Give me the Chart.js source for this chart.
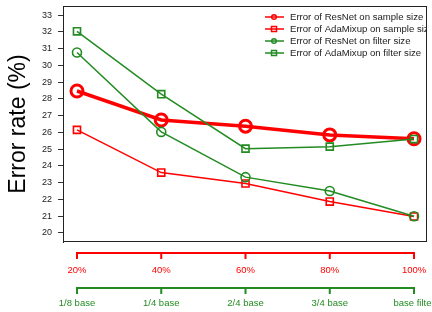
<!DOCTYPE html>
<html>
<head>
<meta charset="utf-8">
<script src="https://cdn.jsdelivr.net/npm/chart.js@4/dist/chart.umd.min.js"></script>
<style>
  html, body { margin: 0; padding: 0; background: #fff; }
  #wrap { width: 432px; height: 312px; }
</style>
</head>
<body>
<div id="wrap"><canvas id="chart" width="432" height="312"></canvas></div>
<script>
// tick labels of the two bottom axes
const sampleLabels = ['20%', '40%', '60%', '80%', '100%'];
const filterLabels = ['1/8 base', '1/4 base', '2/4 base', '3/4 base', 'base filter'];
const yTicks = [20, 21, 22, 23, 24, 25, 26, 27, 28, 29, 30, 31, 32, 33];

// error rates (%)
const resnetSample = [28.47, 26.74, 26.37, 25.85, 25.62];
const adamixupSample = [26.15, 23.6, 22.95, 21.87, 20.98];
const resnetFilter = [30.77, 26.03, 23.33, 22.5, 21.0];
const adamixupFilter = [32.03, 28.28, 25.03, 25.15, 25.6];

const RED = '#ff0000';
const GREEN = '#228b22';
const FONT = '"Liberation Sans", Arial, Helvetica, sans-serif';

function toPoints(values) {
    return values.map((v, i) => ({ x: i, y: v }));
}

// Boîte du graphique + légende maison (coupée au bord du cadre)
const boxAndLegend = {
    id: 'boxAndLegend',
    afterDatasetsDraw(chart) {
        const { ctx, chartArea: a } = chart;
        ctx.save();
        ctx.beginPath();
        ctx.rect(a.left, a.top, a.right - a.left, a.bottom - a.top);
        ctx.clip();
        ctx.font = '9.6px ' + FONT;
        ctx.textBaseline = 'middle';
        ctx.fillStyle = '#222';
        const items = chart.data.datasets.slice().sort((p, q) => p.legendIndex - q.legendIndex);
        items.forEach((ds, i) => {
            const y = a.top + 11 + i * 12;
            ctx.strokeStyle = ds.borderColor;
            ctx.lineWidth = 1.5;
            ctx.beginPath();
            ctx.moveTo(265, y);
            ctx.lineTo(284, y);
            ctx.stroke();
            ctx.beginPath();
            if (ds.pointStyle === 'circle') {
                ctx.arc(274, y, 2.3, 0, Math.PI * 2);
            } else {
                ctx.rect(271.5, y - 2.5, 5, 5);
            }
            ctx.stroke();
            ctx.fillText(ds.label, 290, y + 0.5);
        });
        ctx.restore();

        ctx.save();
        ctx.strokeStyle = '#222';
        ctx.lineWidth = 1;
        ctx.strokeRect(a.left + 0.5, a.top + 0.5, a.right - a.left - 1, a.bottom - a.top - 1);
        ctx.restore();
    }
};

// Les crochets colorés sous le graphique (ligne + graduations)
const brackets = {
    id: 'brackets',
    afterDraw(chart) {
        const { ctx } = chart;
        [['x', RED, 11], ['x2', GREEN, 12]].forEach(([id, color, gap]) => {
            const s = chart.scales[id];
            const y = s.top + gap;
            ctx.save();
            ctx.strokeStyle = color;
            ctx.lineWidth = 2;
            ctx.beginPath();
            ctx.moveTo(s.getPixelForValue(0) - 1, y);
            ctx.lineTo(s.getPixelForValue(4) + 1, y);
            for (let i = 0; i < 5; i++) {
                const px = s.getPixelForValue(i);
                ctx.moveTo(px, y);
                ctx.lineTo(px, y + 6);
            }
            ctx.stroke();
            ctx.restore();
        });
    }
};

function fixedTicks(values) {
    return (scale) => { scale.ticks = values.map(v => ({ value: v })); };
}

const xIdx = [0, 1, 2, 3, 4];

new Chart(document.getElementById('chart'), {
    type: 'line',
    data: {
        datasets: [
            {
                label: 'Error of ResNet on filter size',
                data: toPoints(resnetFilter),
                borderColor: GREEN, backgroundColor: 'rgba(0,0,0,0)',
                borderWidth: 1.5, pointStyle: 'circle', pointRadius: 4.5,
                pointBorderWidth: 1.6, order: 1, legendIndex: 2
            },
            {
                label: 'Error of AdaMixup on filter size',
                data: toPoints(adamixupFilter),
                borderColor: GREEN, backgroundColor: 'rgba(0,0,0,0)',
                borderWidth: 1.5, pointStyle: 'rect', pointRadius: 5,
                pointBorderWidth: 1.6, order: 1, legendIndex: 3
            },
            {
                label: 'Error of ResNet on sample size',
                data: toPoints(resnetSample),
                borderColor: RED, backgroundColor: 'rgba(0,0,0,0)',
                borderWidth: 3.5, pointStyle: 'circle', pointRadius: 6,
                pointBorderWidth: 3, order: 2, legendIndex: 0
            },
            {
                label: 'Error of AdaMixup on sample size',
                data: toPoints(adamixupSample),
                borderColor: RED, backgroundColor: 'rgba(0,0,0,0)',
                borderWidth: 1.5, pointStyle: 'rect', pointRadius: 5,
                pointBorderWidth: 1.6, order: 2, legendIndex: 1
            }
        ]
    },
    options: {
        responsive: false,
        animation: false,
        layout: { autoPadding: false, padding: { left: 0, top: 6, right: 5, bottom: 0 } },
        plugins: { legend: { display: false }, tooltip: { enabled: false } },
        elements: { line: { tension: 0 } },
        scales: {
            x: {
                type: 'linear', position: 'bottom', min: -0.166, max: 4.154,
                afterBuildTicks: fixedTicks(xIdx),
                afterFit: (s) => { s.paddingLeft = 0; s.paddingRight = 0; s.height = 34; },
                grid: { display: false, drawTicks: false },
                border: { display: false },
                ticks: {
                    padding: 23, color: RED, maxRotation: 0, autoSkip: false,
                    font: { family: FONT, size: 9.5 },
                    callback: (v) => sampleLabels[v]
                }
            },
            x2: {
                type: 'linear', position: 'bottom', min: -0.166, max: 4.154,
                afterBuildTicks: fixedTicks(xIdx),
                afterFit: (s) => { s.paddingLeft = 0; s.paddingRight = 0; s.height = 36; },
                grid: { display: false, drawTicks: false },
                border: { display: false },
                ticks: {
                    padding: 22, color: GREEN, maxRotation: 0, autoSkip: false,
                    font: { family: FONT, size: 9.5 },
                    callback: (v) => filterLabels[v]
                }
            },
            y: {
                type: 'linear', min: 19.46, max: 33.54,
                afterBuildTicks: fixedTicks(yTicks),
                afterFit: (s) => { s.width = 63; s.paddingTop = 0; s.paddingBottom = 0; },
                grid: { drawOnChartArea: false, drawTicks: true, tickLength: 5, tickColor: '#333' },
                border: { display: true, color: '#222' },
                ticks: { padding: 6, color: '#222', font: { family: FONT, size: 9 } },
                title: {
                    display: true, text: 'Error rate (%)', color: '#000',
                    font: { family: FONT, size: 23 }, padding: { top: 5, bottom: 0 }
                }
            }
        }
    },
    plugins: [boxAndLegend, brackets]
});
</script>
</body>
</html>
